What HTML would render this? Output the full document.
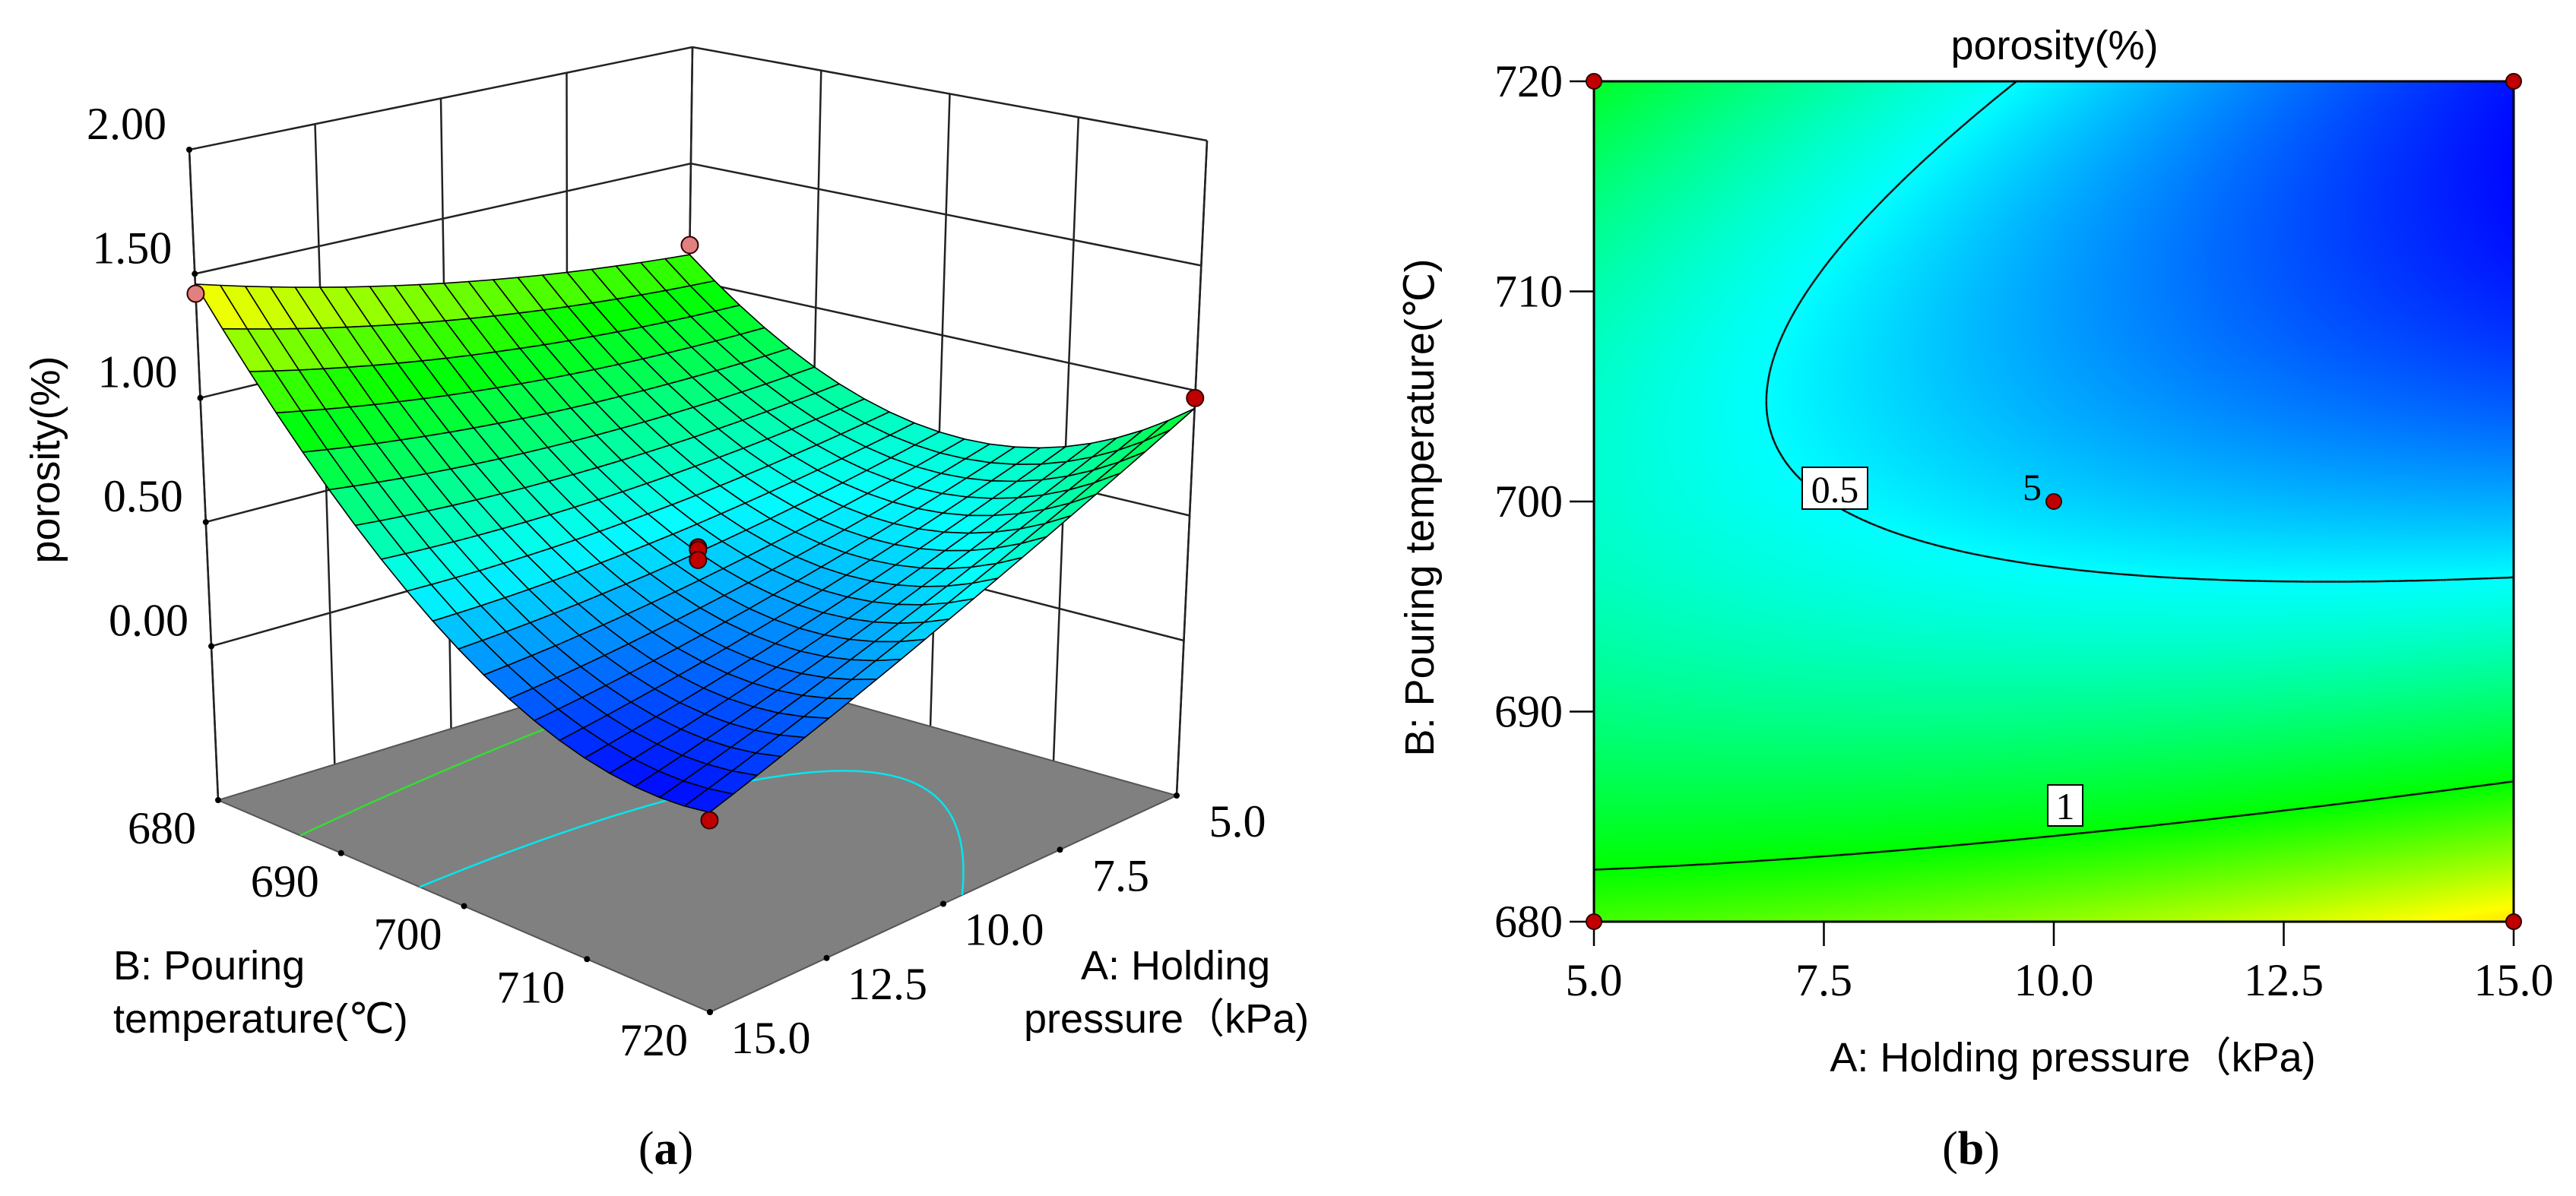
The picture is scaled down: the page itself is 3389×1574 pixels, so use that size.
<!DOCTYPE html>
<html><head><meta charset="utf-8">
<style>
html,body{margin:0;padding:0;background:#fff;}
body{width:3389px;height:1574px;position:relative;overflow:hidden;font-family:"Liberation Sans",sans-serif;}
#svgA,#svgB{position:absolute;left:0;top:0;}
#heat{position:absolute;left:2097px;top:107px;}
</style></head>
<body>
<svg id="svgA" width="1800" height="1574" viewBox="0 0 1800 1574"></svg>
<canvas id="heat" width="1210" height="1106"></canvas>
<svg id="svgB" width="3389" height="1574" viewBox="0 0 3389 1574"></svg>
<script>
// ---- data ----
const modelCoef = [0.43, -0.1175, -0.3825, -0.2925, 0.052, 0.419]; // b0, a, b, ab, a^2, b^2 (coded)
const contourLevels = [0.5, 1];
const designA = [15, 5, 5, 15, 10, 10, 10];
const designB = [680, 680, 720, 720, 700, 700, 700];
const designY = [1.42, 1.15, 0.97, 0.08, 0.45, 0.44, 0.40];
const aTicks = [5, 7.5, 10, 12.5, 15];
const aTickLabels = ["5.0", "7.5", "10.0", "12.5", "15.0"];
const bTicks = [680, 690, 700, 710, 720];
const bTickLabels = ["680", "690", "700", "710", "720"];
const zTicks = [0, 0.5, 1, 1.5, 2];
const zTickLabels = ["0.00", "0.50", "1.00", "1.50", "2.00"];

const NS = "http://www.w3.org/2000/svg";
function f(A, B) {
  const a = (A - 10) / 5, b = (B - 700) / 20, c = modelCoef;
  return c[0] + c[1]*a + c[2]*b + c[3]*a*b + c[4]*a*a + c[5]*b*b;
}
const stops = [[0.08,0,0,255],[0.5,0,255,255],[1.0,0,255,0],[1.4,255,255,0],[1.6,255,160,0]];
function cmap(v) {
  if (v <= stops[0][0]) return [0,0,255];
  for (let i = 1; i < stops.length; i++) {
    if (v <= stops[i][0]) {
      const s0 = stops[i-1], s1 = stops[i], t = (v - s0[0]) / (s1[0] - s0[0]);
      return [0,1,2].map(k => Math.round(s0[k+1] + (s1[k+1] - s0[k+1]) * t));
    }
  }
  return [255,160,0];
}
function rgb(c){return "rgb("+c[0]+","+c[1]+","+c[2]+")";}
function contourSegs(level, N) {
  const segs = [];
  for (let i = 0; i < N; i++) for (let j = 0; j < N; j++) {
    const A0 = 5 + 10*i/N, A1 = 5 + 10*(i+1)/N, B0 = 680 + 40*j/N, B1 = 680 + 40*(j+1)/N;
    const c = [[A0,B0],[A1,B0],[A1,B1],[A0,B1]];
    const v = c.map(p => f(p[0], p[1]) - level);
    const pts = [];
    for (let k = 0; k < 4; k++) {
      const k2 = (k+1)%4;
      if ((v[k] < 0) !== (v[k2] < 0)) {
        const t = v[k] / (v[k] - v[k2]);
        pts.push([c[k][0] + (c[k2][0]-c[k][0])*t, c[k][1] + (c[k2][1]-c[k][1])*t]);
      }
    }
    if (pts.length >= 2) segs.push([pts[0], pts[1]]);
    if (pts.length === 4) segs.push([pts[2], pts[3]]);
  }
  return segs;
}
function mk(parent, tag, attrs, text) {
  const e = document.createElementNS(NS, tag);
  for (const k in attrs) e.setAttribute(k, attrs[k]);
  if (text !== undefined) e.textContent = text;
  parent.appendChild(e);
  return e;
}

// ---- Panel A: 3D surface ----
const ZMIN = -0.62, ZMAX = 2.0;
const corners = {
  f00:[900,865], f10:[287,1053], f01:[1548,1047], f11:[934,1332],
  t00:[911,62],  t10:[249,197],  t01:[1588,185],  t11:[932,387]
};
function P(A, B, z) {
  const p = (A-5)/10, q = (B-680)/40, r = (z-ZMIN)/(ZMAX-ZMIN);
  const bl = (c00,c10,c01,c11) => [0,1].map(k => c00[k]*(1-p)*(1-q) + c10[k]*p*(1-q) + c01[k]*(1-p)*q + c11[k]*p*q);
  const fl = bl(corners.f00, corners.f10, corners.f01, corners.f11);
  const tp = bl(corners.t00, corners.t10, corners.t01, corners.t11);
  return [fl[0] + (tp[0]-fl[0])*r, fl[1] + (tp[1]-fl[1])*r];
}
const svgA = document.getElementById("svgA");
function line(parent, p1, p2, stroke, w) {
  return mk(parent, "line", {x1:p1[0].toFixed(1), y1:p1[1].toFixed(1), x2:p2[0].toFixed(1), y2:p2[1].toFixed(1), stroke:stroke, "stroke-width":w});
}
const gWalls = mk(svgA, "g", {});


aTicks.forEach(A => line(gWalls, P(A,680,ZMIN), P(A,680,ZMAX), "#222", 2.5));
bTicks.forEach(B => line(gWalls, P(5,B,ZMIN), P(5,B,ZMAX), "#222", 2.5));
zTicks.forEach(z => { line(gWalls, P(15,680,z), P(5,680,z), "#222", 2.5); line(gWalls, P(5,680,z), P(5,720,z), "#222", 2.5); });
line(gWalls, P(15,680,ZMIN), P(15,680,ZMAX), "#222", 2.5);
line(gWalls, P(5,720,ZMIN), P(5,720,ZMAX), "#222", 2.5);
const fl = [P(5,680,ZMIN), P(15,680,ZMIN), P(15,720,ZMIN), P(5,720,ZMIN)];
const floor = mk(svgA, "polygon", {points: fl.map(p => p.join(",")).join(" "), fill:"#808080", stroke:"#555", "stroke-width":2});


const floorColors = ["#00e8f0", "#33dd33"];
contourLevels.forEach((L, li) => {
  const g = mk(svgA, "g", {stroke: floorColors[li], "stroke-width":2.5});
  
  
  contourSegs(L, 60).forEach(s => line(g, P(s[0][0], s[0][1], ZMIN), P(s[1][0], s[1][1], ZMIN), floorColors[li], 2.5));
});
aTicks.forEach((A, i) => {
  const p = P(A, 720, ZMIN);
  const d = mk(svgA, "circle", {cx:p[0], cy:p[1], r:4, fill:"#000"});
  
  
  const t = mk(svgA, "text", {x:p[0]+80, y:p[1]+54, "text-anchor":"middle", "font-family":"Liberation Serif, serif", "font-size":60}, aTickLabels[i]);
  
  
});
bTicks.forEach((B, i) => {
  const p = P(15, B, ZMIN);
  const d = mk(svgA, "circle", {cx:p[0], cy:p[1], r:4, fill:"#000"});
  
  
  const t = mk(svgA, "text", {x:p[0]-74, y:p[1]+57, "text-anchor":"middle", "font-family":"Liberation Serif, serif", "font-size":60}, bTickLabels[i]);
  
  
});
zTicks.forEach((z, i) => {
  const p = P(15, 680, z);
  const d = mk(svgA, "circle", {cx:p[0], cy:p[1], r:4, fill:"#000"});
  
  
  const t = mk(svgA, "text", {x:p[0]-30, y:p[1]-14, "text-anchor":"end", "font-family":"Liberation Serif, serif", "font-size":60}, zTickLabels[i]);
  
  
});
const N = 20, cells = [];
for (let i = 0; i < N; i++) for (let j = 0; j < N; j++) cells.push([i, j]);
cells.sort((u, v) => (u[0]+u[1]) - (v[0]+v[1]));
const gS = mk(svgA, "g", {stroke:"#000", "stroke-width":1.6, "stroke-linejoin":"round"});


cells.forEach(([i, j]) => {
  const As = [5+10*i/N, 5+10*(i+1)/N], Bs = [680+40*j/N, 680+40*(j+1)/N];
  const q = [[As[0],Bs[0]],[As[1],Bs[0]],[As[1],Bs[1]],[As[0],Bs[1]]];
  const vals = q.map(c => f(c[0], c[1]));
  const avg = vals.reduce((s, x) => s + x, 0) / 4;
  const pts = q.map((c, k) => P(c[0], c[1], vals[k]).map(x => x.toFixed(1)).join(",")).join(" ");
  const poly = mk(gS, "polygon", {points: pts, fill: rgb(cmap(avg))});
  
  
});
designA.forEach((A, i) => {
  const p = P(A, designB[i], designY[i]);
  const c = mk(svgA, "circle", {cx:p[0], cy:p[1], r:11, fill: (i < 2 ? "#e08080" : "#c00000"), stroke:"#300", "stroke-width":2});
  
  
});
const zt = mk(svgA, "text", {x:0, y:0, transform:"translate(78,605) rotate(-90)", "text-anchor":"middle", "font-size":54}, "porosity(%)");


const bt1 = mk(svgA, "text", {x:149, y:1289, "font-size":54}, "B: Pouring");


const bt2 = mk(svgA, "text", {x:149, y:1359, "font-size":54}, "temperature(\u2103)");


const at1 = mk(svgA, "text", {x:1422, y:1289, "font-size":54}, "A: Holding");


const at2 = mk(svgA, "text", {x:1347, y:1359, "font-size":54, "font-family":"Liberation Sans, Noto Sans CJK SC, sans-serif"}, "pressure\uFF08kPa)");


const capA = mk(svgA, "text", {x:876, y:1532, "text-anchor":"middle", "font-family":"Liberation Serif, serif", "font-size":62}, "");


mk(capA, "tspan", {}, "(");
mk(capA, "tspan", {"font-weight":"bold"}, "a");
mk(capA, "tspan", {}, ")");

// ---- Panel B: contour ----
const X0 = 2097, X1 = 3307, Y0 = 107, Y1 = 1213, W = X1 - X0, H = Y1 - Y0;
const sx = A => X0 + (A - 5) / 10 * W;
const sy = B => Y1 - (B - 680) / 40 * H;
const cv = document.getElementById("heat"), ctx = cv.getContext("2d");
const img = ctx.createImageData(W, H);
for (let py = 0; py < H; py++) for (let px = 0; px < W; px++) {
  const c = cmap(f(5 + 10*px/W, 720 - 40*py/H));
  const o = (py*W + px)*4;
  img.data[o] = c[0]; img.data[o+1] = c[1]; img.data[o+2] = c[2]; img.data[o+3] = 255;
}
ctx.putImageData(img, 0, 0);
const svgB = document.getElementById("svgB");
contourLevels.forEach(L => {
  const g = mk(svgB, "g", {});
  
  
  contourSegs(L, 150).forEach(s => line(g, [sx(s[0][0]), sy(s[0][1])], [sx(s[1][0]), sy(s[1][1])], "#111", 2.5));
});
const frame = mk(svgB, "rect", {x:X0, y:Y0, width:W, height:H, fill:"none", stroke:"#000", "stroke-width":3});


aTicks.forEach((A, i) => {
  const t = line(svgB, [sx(A), Y1], [sx(A), Y1 + 32], "#000", 2.5);
  
  
  const l = mk(svgB, "text", {x:sx(A), y:1310, "text-anchor":"middle", "font-family":"Liberation Serif, serif", "font-size":60}, aTickLabels[i]);
  
  
});
bTicks.forEach((B, i) => {
  const t = line(svgB, [X0 - 32, sy(B)], [X0, sy(B)], "#000", 2.5);
  
  
  const l = mk(svgB, "text", {x:2056, y:sy(B) + 20, "text-anchor":"end", "font-family":"Liberation Serif, serif", "font-size":60}, bTickLabels[i]);
  
  
});
const lb1 = mk(svgB, "rect", {x:2371, y:615, width:86, height:55, fill:"#fff", stroke:"#000", "stroke-width":2});


const lt1 = mk(svgB, "text", {x:2414, y:661, "text-anchor":"middle", "font-family":"Liberation Serif, serif", "font-size":50}, "0.5");


const lb2 = mk(svgB, "rect", {x:2694, y:1033, width:46, height:54, fill:"#fff", stroke:"#000", "stroke-width":2});


const lt2 = mk(svgB, "text", {x:2717, y:1078, "text-anchor":"middle", "font-family":"Liberation Serif, serif", "font-size":50}, "1");


const seen = {};
designA.forEach((A, i) => {
  const key = A + "_" + designB[i];
  if (seen[key]) return; seen[key] = 1;
  const c = mk(svgB, "circle", {cx:sx(A), cy:sy(designB[i]), r:10, fill:"#c00000", stroke:"#300", "stroke-width":2});
  
  
});
const cnt = mk(svgB, "text", {x:sx(10) - 16, y:sy(700) - 2, "text-anchor":"end", "font-family":"Liberation Serif, serif", "font-size":50}, String(designA.filter((A, i) => A === 10 && designB[i] === 700).length + 2));


const tb = mk(svgB, "text", {x:2703, y:78, "text-anchor":"middle", "font-size":54}, "porosity(%)");


const yt = mk(svgB, "text", {x:0, y:0, transform:"translate(1886,668) rotate(-90)", "text-anchor":"middle", "font-size":54}, "B: Pouring temperature(\u2103)");


const xt = mk(svgB, "text", {x:2727, y:1410, "text-anchor":"middle", "font-size":54, "font-family":"Liberation Sans, Noto Sans CJK SC, sans-serif"}, "A: Holding pressure\uFF08kPa)");


const capB = mk(svgB, "text", {x:2593, y:1532, "text-anchor":"middle", "font-family":"Liberation Serif, serif", "font-size":62}, "");


mk(capB, "tspan", {}, "(");
mk(capB, "tspan", {"font-weight":"bold"}, "b");
mk(capB, "tspan", {}, ")");
</script>
</body></html>
